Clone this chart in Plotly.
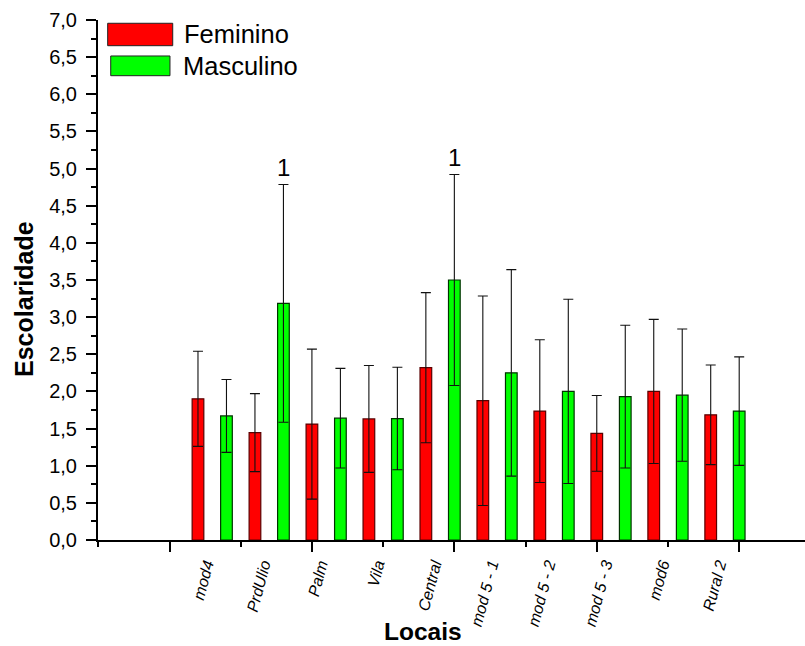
import plotly.graph_objects as go

categories = ["mod4", "PrdUlio", "Palm", "Vila", "Central",
              "mod 5 - 1", "mod 5 - 2", "mod 5 - 3", "mod6", "Rural 2"]
fem = [1.90, 1.445, 1.56, 1.63, 2.32, 1.875, 1.735, 1.435, 2.00, 1.685]
fem_err = [0.64, 0.525, 1.01, 0.72, 1.01, 1.41, 0.96, 0.51, 0.97, 0.67]
masc = [1.67, 3.185, 1.64, 1.635, 3.50, 2.25, 2.00, 1.93, 1.95, 1.735]
masc_err = [0.49, 1.60, 0.67, 0.69, 1.42, 1.39, 1.24, 0.96, 0.89, 0.73]
masc_notes = ["", "1", "", "", "1", "", "", "", "", ""]
series_names = ["Feminino", "Masculino"]
y_ticks = [i * 0.5 for i in range(15)]

FONT = "Arial, Liberation Sans, sans-serif"
RED = "#FF0000"
GREEN = "#00FF00"

n = len(categories)
x_fem = [2 * i for i in range(n)]
x_masc = [2 * i + 1 for i in range(n)]
x_lab = [2 * i + 0.5 for i in range(n)]
XR = [-3.51, 21.31]

fig = go.Figure()
fig.add_trace(go.Bar(
    x=x_fem, y=fem, name=series_names[0], width=0.41,
    marker=dict(color=RED, line=dict(color="#5a0000", width=1.2)),
    error_y=dict(type="data", array=fem_err, symmetric=True,
                 color="#111111", thickness=1.1, width=5),
    xaxis="x", yaxis="y", showlegend=False,
))
fig.add_trace(go.Bar(
    x=x_masc, y=masc, name=series_names[1], width=0.41,
    marker=dict(color=GREEN, line=dict(color="#003300", width=1.2)),
    error_y=dict(type="data", array=masc_err, symmetric=True,
                 color="#111111", thickness=1.1, width=5),
    xaxis="x2", yaxis="y", showlegend=False,
))

annotations = []
for xi, v, e, t in zip(x_masc, masc, masc_err, masc_notes):
    if t:
        annotations.append(dict(x=xi, y=v + e, xref="x2", yref="y", text=t,
                                showarrow=False, yanchor="bottom", yshift=2,
                                font=dict(family=FONT, size=24, color="black")))

# legend drawn as boxes + text
annotations.append(dict(x=0.1188, y=0.973, xref="paper", yref="paper",
                        text=series_names[0], showarrow=False, xanchor="left",
                        yanchor="middle", font=dict(family=FONT, size=25.5, color="black")))
annotations.append(dict(x=0.1174, y=0.9115, xref="paper", yref="paper",
                        text=series_names[1], showarrow=False, xanchor="left",
                        yanchor="middle", font=dict(family=FONT, size=25.5, color="black")))
# axis titles
annotations.append(dict(x=0.459, y=-0.176, xref="paper", yref="paper",
                        text="<b>Locais</b>", showarrow=False, xanchor="center",
                        yanchor="middle", font=dict(family=FONT, size=24.5, color="black")))
annotations.append(dict(x=-0.1047, y=0.4635, xref="paper", yref="paper",
                        text="<b>Escolaridade</b>", showarrow=False, textangle=-90,
                        xanchor="center", yanchor="middle",
                        font=dict(family=FONT, size=25, color="black")))

shapes = [
    dict(type="rect", xref="paper", yref="paper", x0=0.0137, x1=0.1057,
         y0=0.9506, y1=0.9937, fillcolor=RED, line=dict(color="#222222", width=1)),
    dict(type="rect", xref="paper", yref="paper", x0=0.0180, x1=0.1018,
         y0=0.8929, y1=0.9308, fillcolor=GREEN, line=dict(color="#222222", width=1)),
]

fig.update_layout(
    width=805, height=646,
    margin=dict(l=98, r=0, t=20, b=106, autoexpand=False),
    paper_bgcolor="white", plot_bgcolor="white",
    separators=", ",
    barmode="overlay",
    annotations=annotations,
    shapes=shapes,
    xaxis=dict(
        range=XR, tickmode="array", tickvals=x_lab, ticktext=categories,
        tickangle=-75, ticks="outside", ticklen=8, tickcolor="rgba(0,0,0,0)",
        ticklabelshift=-6,
        tickfont=dict(family=FONT, size=16, color="black", style="italic"),
        showline=False, showgrid=False, zeroline=False, fixedrange=True,
    ),
    xaxis2=dict(
        range=XR, overlaying="x", anchor="y", side="bottom",
        tickmode="linear", tick0=-1, dtick=5, ticks="outside", ticklen=10,
        tickwidth=2, tickcolor="black", showticklabels=False,
        minor=dict(tick0=-3.5, dtick=2.5, ticks="outside", ticklen=5,
                   tickwidth=2, tickcolor="black"),
        showline=True, linecolor="black", linewidth=2,
        showgrid=False, zeroline=False,
    ),
    yaxis=dict(
        range=[0, 7], tickmode="array", tickvals=y_ticks, tickformat=".1f",
        ticks="outside", ticklen=10, tickwidth=2, tickcolor="black",
        ticklabelstandoff=5,
        minor=dict(dtick=0.25, ticks="outside", ticklen=5, tickwidth=2,
                   tickcolor="black"),
        tickfont=dict(family=FONT, size=20, color="black"),
        showline=True, linecolor="black", linewidth=2,
        showgrid=False, zeroline=False,
    ),
)

fig.write_html("out.html", config={"displayModeBar": False},
               post_script="document.body.style.margin='0';document.body.style.padding='0';")
